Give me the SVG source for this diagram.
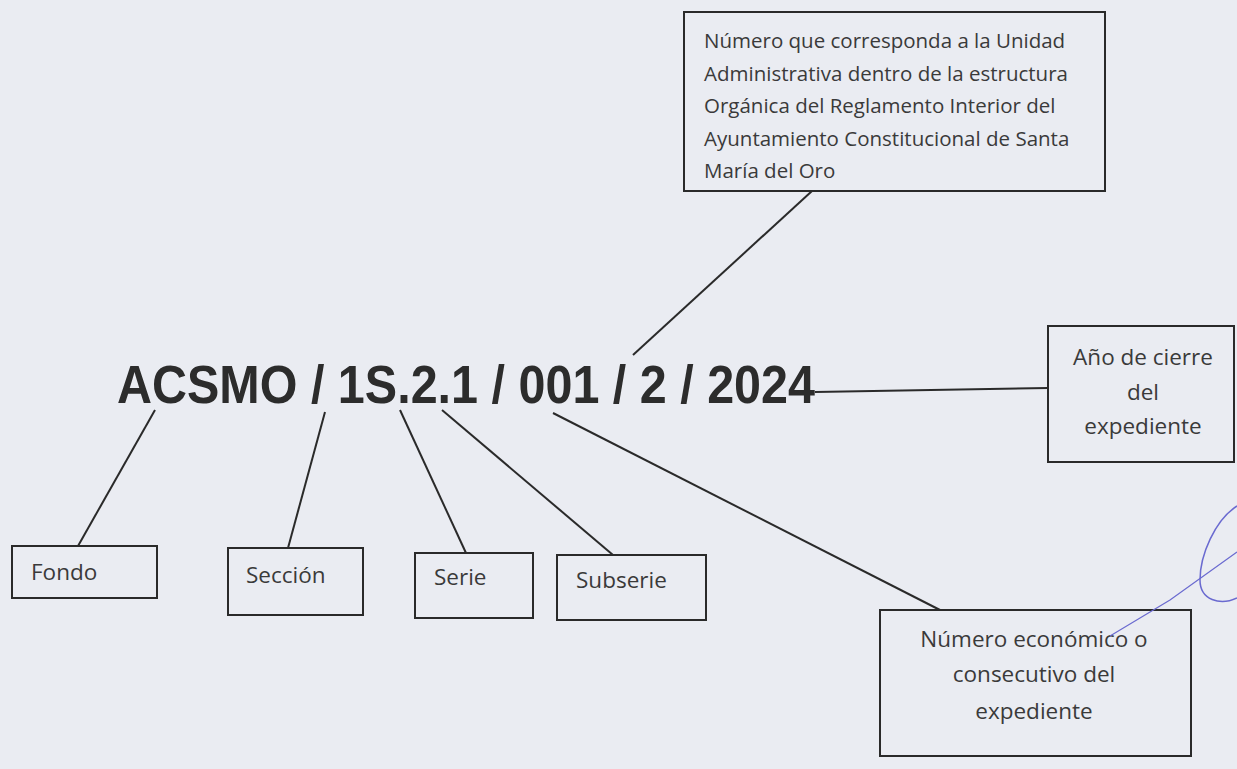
<svg xmlns="http://www.w3.org/2000/svg" width="1237" height="769" viewBox="0 0 1237 769">
<style>
.box{fill:none;stroke:#2a2a2a;stroke-width:2}
.lbl{font-family:"Open Sans","Liberation Sans",sans-serif;font-size:20.5px;fill:#3a3a3a}
.big{font-size:22.5px}
.ctr{text-anchor:middle}
.con{stroke:#2a2a2a;stroke-width:2;fill:none}
</style>
<rect width="1237" height="769" fill="#eaecf2"/>
<g id="code">
<text x="117" y="403" font-family="Liberation Sans, Arial, sans-serif" font-weight="bold" font-size="54" fill="#2c2c2c" textLength="698" lengthAdjust="spacingAndGlyphs">ACSMO / 1S.2.1 / 001 / 2 / 2024</text>
</g>
<g id="connectors">
<line class="con" x1="633" y1="355" x2="812" y2="191"/>
<line class="con" x1="815" y1="392" x2="1048" y2="388"/>
<line class="con" x1="155" y1="410" x2="78" y2="546"/>
<line class="con" x1="325" y1="412" x2="288" y2="548"/>
<line class="con" x1="400" y1="410" x2="466" y2="553"/>
<line class="con" x1="442" y1="410" x2="613" y2="555"/>
<line class="con" x1="553" y1="413" x2="940" y2="610"/>
</g>
<g id="unidad">
<rect class="box" x="684" y="12" width="421" height="179"/>
<text class="lbl" x="704" y="48">Número que corresponda a la Unidad</text>
<text class="lbl" x="704" y="81">Administrativa dentro de la estructura</text>
<text class="lbl" x="704" y="113">Orgánica del Reglamento Interior del</text>
<text class="lbl" x="704" y="146">Ayuntamiento Constitucional de Santa</text>
<text class="lbl" x="704" y="178">María del Oro</text>
</g>
<g id="anio">
<rect class="box" x="1048" y="326" width="186" height="136"/>
<text class="lbl big ctr" x="1143" y="365">Año de cierre</text>
<text class="lbl big ctr" x="1143" y="400">del</text>
<text class="lbl big ctr" x="1143" y="434">expediente</text>
</g>
<g id="fondo">
<rect class="box" x="12" y="546" width="145" height="52"/>
<text class="lbl big" x="31" y="580">Fondo</text>
</g>
<g id="seccion">
<rect class="box" x="228" y="548" width="135" height="67"/>
<text class="lbl big" x="246" y="583">Sección</text>
</g>
<g id="serie">
<rect class="box" x="415" y="553" width="118" height="65"/>
<text class="lbl big" x="434" y="585">Serie</text>
</g>
<g id="subserie">
<rect class="box" x="557" y="555" width="149" height="65"/>
<text class="lbl big" x="576" y="588">Subserie</text>
</g>
<g id="numero">
<rect class="box" x="880" y="610" width="311" height="146"/>
<text class="lbl big ctr" x="1034" y="647">Número económico o</text>
<text class="lbl big ctr" x="1034" y="682">consecutivo del</text>
<text class="lbl big ctr" x="1034" y="719">expediente</text>
</g>
<g id="signature">
<path d="M1110 636 L1170 600 L1237 552" fill="none" stroke="#6a6ad0" stroke-width="1.2"/>
<path d="M1237 506 C1215 520 1200 555 1200 580 C1200 600 1220 606 1237 598" fill="none" stroke="#6a6ad0" stroke-width="1.5"/>
</g>
</svg>
